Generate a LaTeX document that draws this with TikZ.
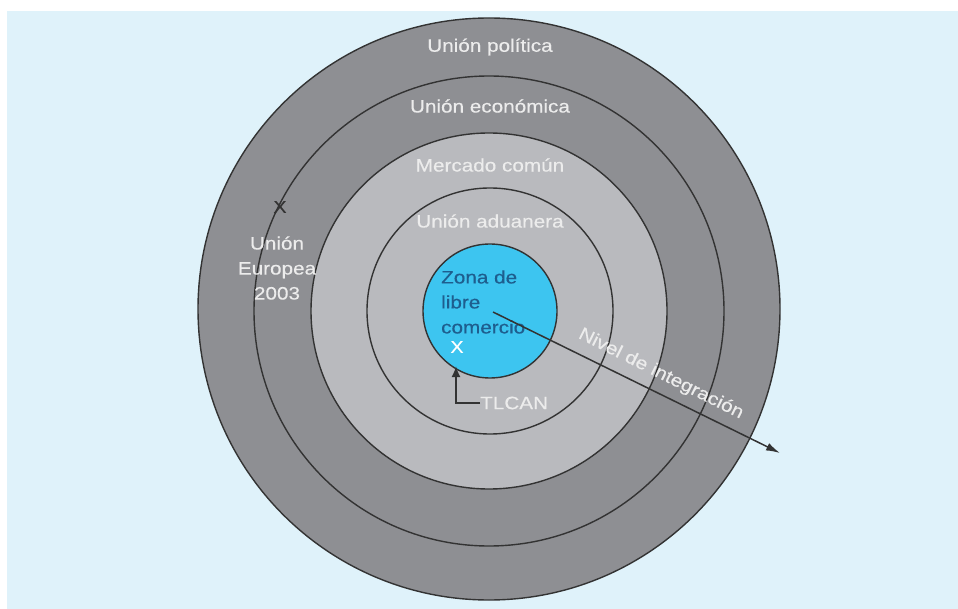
\documentclass[tikz,border=0pt]{standalone}
\usepackage{fontspec}
\setmainfont{Liberation Sans}[FakeStretch=1.15,FakeBold=0.4]
\usetikzlibrary{arrows.meta}
\definecolor{bgblue}{HTML}{DFF2FA}
\definecolor{darkring}{HTML}{8E8F93}
\definecolor{lightring}{HTML}{B9BABE}
\definecolor{zoneblue}{HTML}{3DC5F0}
\definecolor{ringline}{HTML}{333333}
\definecolor{labelwhite}{HTML}{ECECEC}
\definecolor{zonetext}{HTML}{1E5E8E}
\tikzset{
  ring/.style={circle, draw=ringline, line width=1.4pt, inner sep=0pt},
  lbl/.style={text=labelwhite, font=\fontsize{18}{25}\selectfont, inner sep=0pt},
  xmark/.style={font=\fontsize{17}{17}\selectfont, inner sep=0pt}
}
\begin{document}
\begin{tikzpicture}[x=1pt,y=-1pt]
  \useasboundingbox (0,0) rectangle (958,609);
  \fill[bgblue] (7,11) rectangle (958,609);
  % rings, outside in
  \draw
    (489,309) node[ring,fill=darkring,minimum size=582pt] (politica){}
    (489,311) node[ring,fill=darkring,minimum size=470pt] (economica){}
    (489,311) node[ring,fill=lightring,minimum size=356pt] (mercado){}
    (490,311) node[ring,fill=lightring,minimum size=246pt] (aduanera){}
    (490,311) node[ring,fill=zoneblue,minimum size=134pt] (zona){};
  \node[lbl] (tpolitica) at (490,47) {Unión política};
  \node[lbl] (teconomica) at (490,106) {Unión económica};
  \node[lbl] (tmercado) at (490,165) {Mercado común};
  \node[lbl] (taduanera) at (490,221) {Unión aduanera};
  \node[lbl,text=zonetext,align=left,anchor=west] (tzona) at (441,302) {Zona de\\libre\\comercio};
  \node[lbl,align=center] (tue) at (277,268) {Unión\\Europea\\2003};
  \node[xmark,text=ringline] (xue) at (280,207) {X};
  \node[xmark,text=white] (xtlcan) at (457,347) {X};
  \node[lbl,anchor=west] (tlcan) at (480,403) {TLCAN};
  \coordinate (tip) at (456,366);
  \coordinate (origen) at (493,312);
  \coordinate (fin) at (780,453);
  \node[lbl,rotate=-26.5] (tnivel) at (661,374) {Nivel de integración};
  \begin{scope}[draw=ringline]
    \draw[line width=1.8pt,-{Latex[length=11pt,width=9pt]}] (tlcan.west) -| (tip);
    \draw[line width=1.5pt,-{Latex[length=14pt,width=8pt]}] (origen) -- (fin);
  \end{scope}
\end{tikzpicture}
\end{document}
